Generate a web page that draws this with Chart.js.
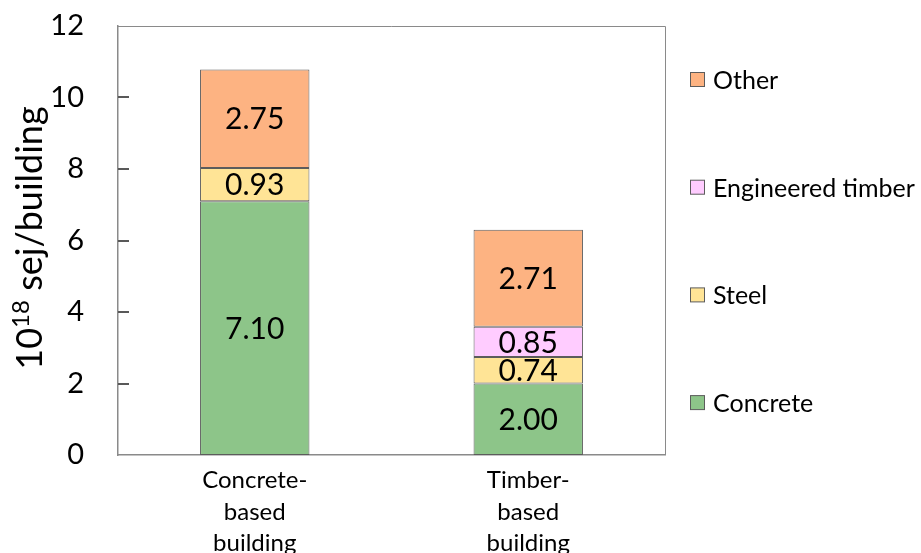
<!DOCTYPE html>
<html>
<head>
<meta charset="utf-8">
<script src="https://cdn.jsdelivr.net/npm/chart.js@4"></script>
<style>
  html, body { margin: 0; padding: 0; background: #fff; overflow: hidden; }
  #wrap { width: 921px; height: 575px; }
</style>
</head>
<body>
<div id="wrap"><canvas id="chart" width="921" height="575"></canvas></div>
<script>
// data (10^18 sej per building)
const buildings = [['Concrete-', 'based', 'building'], ['Timber-', 'based', 'building']];
const concrete = [7.10, 2.00];
const steel = [0.93, 0.74];
const engTimber = [null, 0.85];
const other = [2.75, 2.71];
const yTicks = [0, 2, 4, 6, 8, 10, 12];

const FONT = 'Lato, "Open Sans", sans-serif';
const AXIS_GREY = '#8a8a8a';
const BAR_EDGE = '#5c5c5c';

// frame round the plot area (top + right side) and the inward tick marks
const frame = {
  id: 'frame',
  afterDraw(chart) {
    const { ctx, chartArea: a } = chart;
    const yScale = chart.scales.y;
    ctx.save();
    ctx.strokeStyle = AXIS_GREY;
    ctx.lineWidth = 1;
    ctx.beginPath();
    ctx.moveTo(a.left, a.top + 0.5);
    ctx.lineTo(a.right + 0.5, a.top + 0.5);
    ctx.lineTo(a.right + 0.5, a.bottom);
    ctx.stroke();
    ctx.fillStyle = '#595959';
    for (let k = 1; k < yTicks.length - 1; k++) {
      const py = Math.round(yScale.getPixelForValue(yTicks[k]));
      ctx.fillRect(a.left, py - 1, 11, 2);
    }
    ctx.restore();
  }
};

// values written in the middle of each segment
const segLabels = {
  id: 'segLabels',
  afterDatasetsDraw(chart) {
    const ctx = chart.ctx;
    ctx.save();
    ctx.font = '30px ' + FONT;
    ctx.fillStyle = '#000';
    ctx.textAlign = 'center';
    ctx.textBaseline = 'middle';
    chart.data.datasets.forEach((ds, i) => {
      chart.getDatasetMeta(i).data.forEach((bar, j) => {
        const v = ds.data[j];
        if (v == null || !v) return;
        const p = bar.getProps(['x', 'y', 'base'], true);
        ctx.fillText(v.toFixed(2), p.x, (p.y + p.base) / 2 + 1);
      });
    });
    ctx.restore();
  }
};

// y title with superscript
const yTitle = {
  id: 'yTitle',
  afterDraw(chart) {
    const ctx = chart.ctx;
    const big = '36px ' + FONT, small = '24px ' + FONT;
    ctx.save();
    ctx.font = big;
    const w1 = ctx.measureText('10').width;
    const w3 = ctx.measureText(' sej/building').width;
    ctx.font = small;
    const w2 = ctx.measureText('18').width;
    const total = w1 + w2 + w3;
    ctx.translate(42, 238);
    ctx.rotate(-Math.PI / 2);
    ctx.fillStyle = '#000';
    ctx.textBaseline = 'alphabetic';
    ctx.textAlign = 'left';
    let x = -total / 2;
    ctx.font = big;
    ctx.fillText('10', x, 0);
    x += w1;
    ctx.font = small;
    ctx.fillText('18', x, -13);
    x += w2;
    ctx.font = big;
    ctx.fillText(' sej/building', x, 0);
    ctx.restore();
  }
};

// legend on the right, top to bottom in reverse stack order
const sideLegend = {
  id: 'sideLegend',
  afterDraw(chart) {
    const ctx = chart.ctx;
    const items = chart.data.datasets.slice().reverse();
    ctx.save();
    ctx.font = '25px ' + FONT;
    ctx.textBaseline = 'middle';
    ctx.textAlign = 'left';
    items.forEach((ds, k) => {
      const cy = 80 + k * 107.7;
      ctx.fillStyle = ds.backgroundColor;
      ctx.fillRect(690.5, cy - 7.5, 14, 14);
      ctx.strokeStyle = BAR_EDGE;
      ctx.lineWidth = 1;
      ctx.strokeRect(690.5, cy - 7.5, 14, 14);
      ctx.fillStyle = '#000';
      ctx.fillText(ds.label, 713, cy + 1);
    });
    ctx.restore();
  }
};

function seg(label, data, color) {
  return {
    label: label,
    data: data,
    backgroundColor: color,
    borderColor: BAR_EDGE,
    borderWidth: 1,
    borderSkipped: false,
    barPercentage: 0.4,
    categoryPercentage: 1.0
  };
}

new Chart(document.getElementById('chart'), {
  type: 'bar',
  data: {
    labels: buildings,
    datasets: [
      seg('Concrete', concrete, '#8dc589'),
      seg('Steel', steel, '#ffe496'),
      seg('Engineered timber', engTimber, '#ffccff'),
      seg('Other', other, '#fdb382')
    ]
  },
  options: {
    responsive: false,
    animation: false,
    layout: { padding: { top: 26, right: 256, left: 0, bottom: 0 } },
    plugins: {
      legend: { display: false },
      tooltip: { enabled: false }
    },
    scales: {
      x: {
        stacked: true,
        grid: { display: false, drawTicks: false },
        border: { display: true, color: AXIS_GREY, width: 1.5 },
        ticks: {
          color: '#000',
          font: { family: FONT, size: 24, lineHeight: 1.3 },
          padding: 10,
          maxRotation: 0,
          autoSkip: false
        },
        afterFit(s) { s.height = 120; }
      },
      y: {
        stacked: true,
        min: 0,
        max: 12,
        afterBuildTicks(s) { s.ticks = yTicks.map(v => ({ value: v })); },
        grid: { display: false, drawTicks: false },
        border: { display: true, color: AXIS_GREY, width: 1.5 },
        ticks: {
          color: '#000',
          font: { family: FONT, size: 29 },
          padding: 34
        },
        afterFit(s) {
          s.width = 118;
          s.paddingTop = 0;
          s.paddingBottom = 0;
        }
      }
    }
  },
  plugins: [frame, segLabels, yTitle, sideLegend]
});
</script>
</body>
</html>
